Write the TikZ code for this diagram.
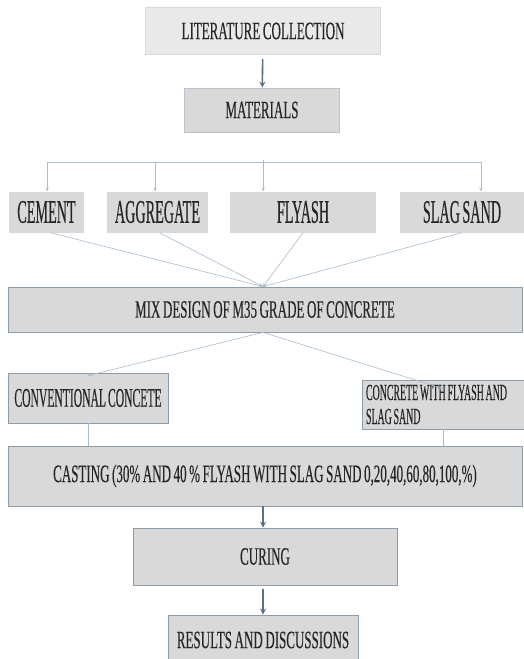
\documentclass[tikz,border=0pt]{standalone}
\usepackage{fontspec}
\setmainfont[FakeStretch=0.52, WordSpace=0.8, FakeBold=0.25]{Liberation Serif}
\newfontfamily\rowfont[FakeStretch=0.43, WordSpace=0.7, FakeBold=0.25]{Liberation Serif}
\usetikzlibrary{arrows}
\definecolor{boxgrey}{HTML}{D9D9D9}
\definecolor{paleGrey}{HTML}{E9E9E9}
\definecolor{edgeblue}{HTML}{8E9CAA}
\definecolor{flowblue}{HTML}{5A6E86}
\definecolor{linkblue}{HTML}{A9BCCF}
\definecolor{txtgrey}{HTML}{262626}
\tikzstyle{every node}=[text=txtgrey, inner sep=0pt]
\tikzstyle{stage} = [rectangle, text centered, draw=edgeblue, line width=0.8pt, fill=boxgrey, font=\fontsize{25}{28}\selectfont]
\tikzstyle{material} = [rectangle, minimum height=41pt, text centered, fill=boxgrey, font=\rowfont\fontsize{33}{36}\selectfont]
\tikzstyle{arrow} = [line width=1.6pt, ->, >=stealth, draw=flowblue]
\tikzstyle{link} = [line width=0.6pt, draw=linkblue]
\tikzstyle{linkarrow} = [link, ->, >=stealth]

\begin{document}
\begin{tikzpicture}[x=1pt, y=-1pt]
        \clip (0,0) rectangle (524,659);
        \fill[white] (0,0) rectangle (524,659);

        \node (lit) [stage, fill=paleGrey, draw=black!15, minimum width=235pt, minimum height=47pt] at (263,31) {LITERATURE COLLECTION};
        \node (mat) [stage, draw=edgeblue!60, minimum width=155pt, minimum height=44pt] at (262,110) {MATERIALS};

        % materials row
        \node (cem) [material, minimum width=75pt] at (46.5,212) {CEMENT};
        \node (agg) [material, minimum width=101pt] at (157.5,212) {AGGREGATE};
        \node (fly) [material, minimum width=146pt] at (303,212) {FLYASH};
        \node (slag) [material, minimum width=124pt] at (462,212) {SLAG SAND};

        \node (mix) [stage, minimum width=514pt, minimum height=45pt] at (265,309.5) {MIX DESIGN OF M35 GRADE OF CONCRETE};

        \node (conv) [stage, minimum width=160pt, minimum height=50pt, font=\rowfont\fontsize{27}{30}\selectfont] at (88,398) {CONVENTIONAL CONCETE};
        \node (flyconc) [stage, minimum width=162pt, minimum height=49pt, text width=154pt, align=flush left, font=\rowfont\fontsize{23}{24}\selectfont] at (443,404.5) {CONCRETE WITH FLYASH AND\\SLAG SAND};

        \node (cast) [stage, minimum width=514pt, minimum height=60pt] at (265,476) {CASTING (30\% AND 40 \% FLYASH WITH SLAG SAND 0,20,40,60,80,100,\%)};
        \node (cure) [stage, minimum width=264pt, minimum height=57pt] at (265,556.5) {CURING};
        \node (res) [stage, minimum width=190pt, minimum height=50pt] at (263,640) {RESULTS AND DISCUSSIONS};

        % branch to the materials
        \coordinate (b1) at (47,162);
        \coordinate (b2) at (155,162);
        \coordinate (b3) at (263,160);
        \coordinate (b4) at (481,162);
        \draw [link] (b1) -- (b4);
        \draw [linkarrow] (b1) -- (b1 |- cem.north);
        \draw [linkarrow] (b2) -- (b2 |- agg.north);
        \draw [linkarrow] (b3) -- (b3 |- fly.north);
        \draw [linkarrow] (b4) -- (b4 |- slag.north);

        \draw [arrow, shorten <=4pt] (lit) -- (mat);

        \draw [linkarrow] ([xshift=4pt]cem.south) -- ([xshift=-2pt]mix.north);
        \draw [linkarrow] ([xshift=2pt]agg.south) -- ([xshift=-2pt]mix.north);
        \draw [linkarrow] (fly.south) -- ([xshift=-2pt]mix.north);
        \draw [linkarrow] (slag.south) -- ([xshift=-2pt]mix.north);

        \draw [linkarrow] ([xshift=-2pt]mix.south) -- ([yshift=-3pt]conv.north);
        \draw [linkarrow] ([xshift=-2pt]mix.south) -- ([yshift=-9pt]flyconc.north);
        \draw [link] (conv.south) -- (conv.south |- cast.north);
        \draw [link] (flyconc.south) -- (flyconc.south |- cast.north);

        \draw [arrow] ([xshift=-2pt]cast.south) -- ([xshift=-2pt]cure.north);
        \draw [arrow, shorten <=4pt] ([xshift=-2pt]cure.south) -- (res.north);
      \end{tikzpicture}
\end{document}
